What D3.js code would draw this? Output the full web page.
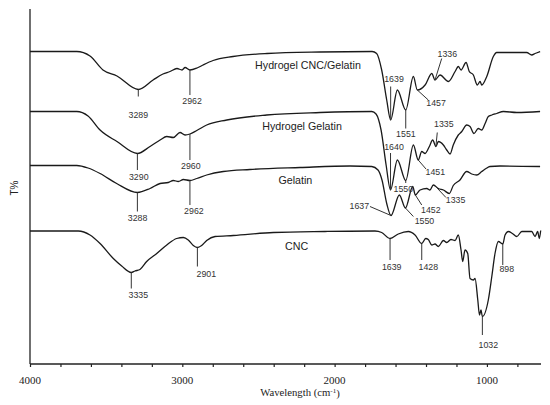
<!DOCTYPE html>
<html>
<head>
<meta charset="utf-8">
<script src="https://cdnjs.cloudflare.com/ajax/libs/d3/7.8.5/d3.min.js"></script>
<style>
  body { margin: 0; background: #fff; }
  .peak { font-family: "Liberation Sans", Arial, sans-serif; font-size: 8.8px; fill: #333; }
  .name { font-family: "Liberation Sans", Arial, sans-serif; font-size: 10.7px; fill: #222; }
  .tick-label { font-family: "Liberation Serif", "Times New Roman", serif; font-size: 11px; fill: #222; }
</style>
</head>
<body>
<div id="chart"></div>
<script>
// spectra: [wavenumber (cm-1), T (arbitrary offset units)]
var hydrogelCncGelatin = [
  [4000, 62.5], [3693, 62.5], [3606, 61.6], [3521, 58.8], [3429, 57.6], [3289, 54.9],
  [3192, 56.8], [3127, 58.0], [3081, 58.5], [3035, 59.1], [3002, 58.8], [2982, 59.3],
  [2950, 58.8], [2903, 59.2], [2864, 59.8], [2798, 60.7], [2667, 61.5], [2444, 62.1],
  [2096, 62.4], [1754, 62.5], [1724, 62.1], [1691, 58.8], [1658, 52.8], [1632, 48.8],
  [1588, 54.8], [1533, 50.8], [1483, 57.5], [1457, 54.8], [1406, 55.8], [1362, 58.1],
  [1341, 56.8], [1308, 57.8], [1253, 56.5], [1209, 58.5], [1188, 59.5], [1170, 58.8],
  [1137, 60.3], [1116, 58.5], [1089, 57.8], [1063, 55.8], [1045, 56.5], [1034, 55.8],
  [1001, 57.5], [958, 61.5], [936, 62.3], [739, 62.3], [706, 61.8], [684, 62.1], [651, 62.5]
];
var hydrogelGelatin = [
  [4000, 50.5], [3693, 50.5], [3619, 49.6], [3540, 46.8], [3429, 44.5], [3295, 42.1],
  [3212, 43.5], [3146, 44.8], [3102, 45.5], [3059, 45.3], [3015, 46.3], [2982, 45.8],
  [2950, 46.0], [2905, 46.7], [2840, 47.8], [2708, 48.8], [2446, 49.8], [2096, 50.3],
  [1756, 50.5], [1728, 50.0], [1695, 46.8], [1662, 39.8], [1633, 34.8], [1588, 40.8],
  [1533, 36.7], [1483, 43.8], [1451, 40.8], [1428, 42.5], [1406, 42.1], [1378, 43.5],
  [1356, 44.8], [1335, 43.5], [1319, 44.5], [1286, 43.8], [1264, 42.8], [1242, 42.0],
  [1221, 43.8], [1188, 45.8], [1165, 46.5], [1133, 47.8], [1111, 47.5], [1085, 46.1],
  [1057, 47.1], [1034, 46.8], [1012, 48.1], [991, 49.5], [968, 49.8], [936, 50.1],
  [892, 50.5], [804, 50.3], [651, 50.5]
];
var gelatin = [
  [4000, 39.7], [3693, 39.7], [3619, 39.2], [3540, 38.1], [3431, 36.1], [3295, 34.3],
  [3212, 35.1], [3146, 36.1], [3092, 36.3], [3059, 36.7], [3026, 36.5], [2993, 36.9],
  [2950, 36.7], [2905, 37.1], [2840, 37.8], [2731, 38.5], [2556, 38.9], [2227, 39.3],
  [1899, 39.6], [1756, 39.5], [1715, 38.8], [1689, 36.8], [1658, 32.1], [1630, 29.7],
  [1575, 33.8], [1535, 31.2], [1487, 35.5], [1470, 33.8], [1439, 34.8], [1395, 35.1],
  [1374, 34.8], [1352, 35.8], [1319, 35.1], [1286, 34.8], [1247, 34.1], [1221, 35.7],
  [1177, 36.8], [1133, 38.5], [1100, 38.0], [1067, 37.8], [1034, 38.5], [1006, 39.1],
  [980, 39.5], [914, 39.6], [651, 39.5]
];
var cnc = [
  [4000, 26.6], [3683, 26.6], [3606, 25.8], [3540, 24.1], [3453, 21.1], [3398, 19.6],
  [3335, 18.3], [3311, 18.6], [3278, 18.9], [3234, 20.5], [3168, 22.1], [3102, 23.8],
  [3037, 25.1], [2993, 25.3], [2961, 24.8], [2928, 23.7], [2901, 23.3], [2873, 23.7],
  [2840, 24.7], [2785, 25.5], [2665, 25.7], [2402, 26.3], [2063, 26.5], [1735, 26.6],
  [1691, 26.3], [1636, 25.1], [1582, 26.0], [1516, 26.5], [1472, 25.8], [1428, 24.1],
  [1402, 25.1], [1385, 24.9], [1362, 23.8], [1341, 24.0], [1319, 23.5], [1286, 24.7],
  [1264, 24.3], [1236, 24.9], [1209, 24.7], [1188, 25.8], [1170, 22.8], [1159, 20.5],
  [1144, 22.8], [1126, 22.1], [1111, 17.1], [1089, 16.8], [1078, 17.1], [1060, 12.8],
  [1049, 9.8], [1039, 10.8], [1030, 9.5], [991, 12.8], [968, 17.5], [947, 22.1],
  [925, 24.5], [896, 24.0], [881, 25.8], [859, 26.5], [833, 26.1], [804, 25.5],
  [771, 26.5], [706, 26.5], [684, 25.5], [667, 26.5], [656, 25.1], [647, 26.7]
];

// peak marks: [text, mark w, line end w, line end T, label w, label T]
var peaksHcg = [
  ["3289", 3289, 3289, 53.5, 3289, 49.8],
  ["2962", 2950, 2950, 53.8, 2936, 52.7],
  ["1639", 1632, 1632, 55.5, 1610, 57.1],
  ["1551", 1533, 1533, 47.1, 1532, 46.0],
  ["1457", 1457, 1385, 52.8, 1334, 52.3],
  ["1336", 1341, 1297, 61.1, 1260, 62.1]
];
var peaksHg = [
  ["3290", 3295, 3295, 38.8, 3286, 37.5],
  ["2960", 2950, 2950, 40.8, 2944, 39.6],
  ["1640", 1633, 1633, 42.2, 1610, 43.4],
  ["1550", 1533, 1533, 36.2, 1549, 35.1],
  ["1451", 1451, 1400, 39.0, 1339, 38.5],
  ["1335", 1335, 1326, 46.3, 1283, 48.0]
];
var peaksGel = [
  ["3288", 3295, 3295, 30.5, 3294, 29.2],
  ["2962", 2950, 2950, 31.8, 2924, 30.6],
  ["1637", 1630, 1768, 31.5, 1838, 31.7],
  ["1550", 1535, 1483, 29.5, 1410, 28.6],
  ["1452", 1470, 1428, 31.8, 1368, 30.9],
  ["1335", 1334, 1269, 33.3, 1206, 32.9]
];
var peaksCnc = [
  ["3335", 3335, 3335, 15.1, 3289, 13.9],
  ["2901", 2901, 2901, 19.5, 2842, 18.1],
  ["1639", 1636, 1636, 20.8, 1625, 19.4],
  ["1428", 1428, 1428, 20.8, 1385, 19.4],
  ["1032", 1030, 1030, 5.8, 991, 3.9],
  ["898", 896, 896, 19.8, 870, 19.0]
];

// series names and where they sit
var seriesNames = ["Hydrogel CNC/Gelatin", "Hydrogel Gelatin", "Gelatin", "CNC"];
var namePos = [[2175, 59.8], [2214, 47.5], [2258, 36.8], [2249, 23.6]];

var majorTicks = [4000, 3000, 2000, 1000];
var minorTicks = d3.range(4000, 799, -200);

var svgWidth = 550, svgHeight = 405;
var svg = d3.select("#chart").append("svg")
  .attr("width", svgWidth)
  .attr("height", svgHeight);

var xScale = d3.scaleLinear().domain([4000, 645]).range([30, 541]);
var yScale = d3.scaleLinear().domain([0, 71]).range([364, 9]);

// axes
svg.append("line")
  .attr("x1", 30).attr("x2", 30)
  .attr("y1", yScale(71)).attr("y2", yScale(0))
  .attr("stroke", "#222").attr("stroke-width", 1.3);

var xAxis = d3.axisBottom(xScale)
  .tickValues(minorTicks)
  .tickSize(3)
  .tickFormat("");
var gx = svg.append("g")
  .attr("transform", `translate(0,${yScale(0)})`)
  .call(xAxis);
gx.select(".domain").attr("stroke", "#222").attr("stroke-width", 1.3)
  .attr("d", `M${xScale(4000)},0H${xScale(645)}`);
gx.selectAll(".tick line").attr("stroke", "#222").attr("stroke-width", 1.2);

svg.selectAll(".tick-label")
  .data(majorTicks)
  .enter()
  .append("text")
  .attr("class", "tick-label")
  .attr("x", d => xScale(d))
  .attr("y", yScale(0) + 16)
  .attr("dy", "0.35em")
  .attr("text-anchor", "middle")
  .text(d => d);

var xTitle = svg.append("text")
  .attr("class", "tick-label")
  .attr("x", 300)
  .attr("y", 396)
  .attr("text-anchor", "middle")
  .style("font-size", "10.7px");
xTitle.append("tspan").text("Wavelength (cm");
xTitle.append("tspan").attr("dy", "-0.4em").style("font-size", "7px").text("-1");
xTitle.append("tspan").attr("dy", "0.4em").text(")");

svg.append("text")
  .attr("class", "name")
  .attr("transform", "translate(18,188) rotate(-90)")
  .attr("text-anchor", "middle")
  .style("font-size", "10px")
  .text("T%");

// spectra
var line = d3.line()
  .x(d => xScale(d[0]))
  .y(d => yScale(d[1]))
  .curve(d3.curveMonotoneX);

var allSeries = [hydrogelCncGelatin, hydrogelGelatin, gelatin, cnc];
var allPeaks = [peaksHcg, peaksHg, peaksGel, peaksCnc];

svg.selectAll(".spectrum")
  .data(allSeries)
  .enter()
  .append("path")
  .attr("class", "spectrum")
  .attr("d", line)
  .attr("fill", "none")
  .attr("stroke", "#1a1a1a")
  .attr("stroke-width", 1.3)
  .attr("stroke-linejoin", "round");

// value of a spectrum at a wavenumber (linear between read points)
function valueAt(series, w) {
  for (var i = 0; i < series.length - 1; i++) {
    var a = series[i], b = series[i + 1];
    if (w <= a[0] && w >= b[0]) {
      return a[1] + (b[1] - a[1]) * (a[0] - w) / (a[0] - b[0]);
    }
  }
  return series[series.length - 1][1];
}

allPeaks.forEach(function (peaks, k) {
  var g = svg.append("g");
  g.selectAll("line")
    .data(peaks)
    .enter()
    .append("line")
    .attr("x1", d => xScale(d[1]))
    .attr("y1", d => yScale(valueAt(allSeries[k], d[1])))
    .attr("x2", d => xScale(d[2]))
    .attr("y2", d => yScale(d[3]))
    .attr("stroke", "#333")
    .attr("stroke-width", 1);
  g.selectAll("text")
    .data(peaks)
    .enter()
    .append("text")
    .attr("class", "peak")
    .attr("x", d => xScale(d[4]))
    .attr("y", d => yScale(d[5]))
    .attr("dy", "0.35em")
    .attr("text-anchor", "middle")
    .text(d => d[0]);
});

svg.selectAll(".name-label")
  .data(seriesNames)
  .enter()
  .append("text")
  .attr("class", "name")
  .attr("x", (d, i) => xScale(namePos[i][0]))
  .attr("y", (d, i) => yScale(namePos[i][1]))
  .attr("dy", "0.35em")
  .attr("text-anchor", "middle")
  .text(d => d);
</script>
</body>
</html>
